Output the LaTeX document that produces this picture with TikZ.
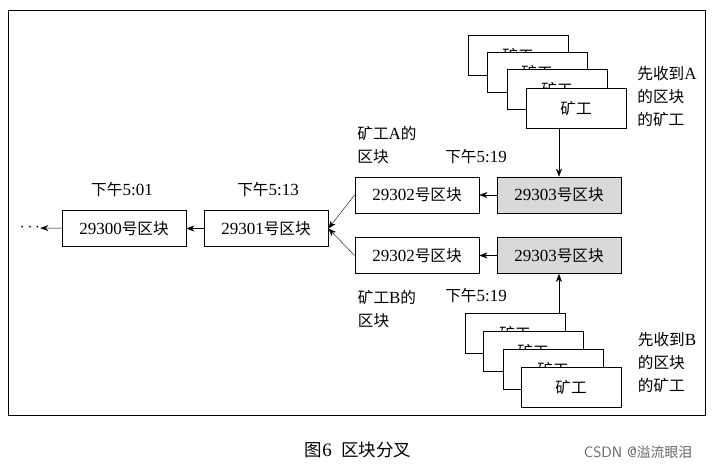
\documentclass[tikz,border=0pt]{standalone}
\usepackage{fontspec}
\setmainfont{Liberation Serif}
\newfontfamily\cjk{Noto Sans CJK SC}[Scale=0.92]
\newcommand{\zh}[1]{{\cjk #1}}
\usetikzlibrary{arrows.meta}
\begin{document}
\begin{tikzpicture}[x=1pt,y=-1pt,
  blk/.style={draw,thick,minimum width=124pt,minimum height=36pt,font=\fontsize{17}{19}\selectfont,inner sep=0pt},
  gblk/.style={blk,fill=black!15},
  mn/.style={draw,fill=white,minimum width=100pt,minimum height=40pt,font=\fontsize{17}{19}\selectfont,inner sep=0pt},
  lbl/.style={font=\fontsize{17}{23}\selectfont,align=left,inner sep=0pt},
  arr/.style={-{Stealth[length=8pt,width=6pt]}}]
\useasboundingbox (0,0) rectangle (715,470);
\fill[white] (0,0) rectangle (715,470);
\draw (8,10) rectangle (705,415);
\node[lbl] (dots) at (30,228) {$\cdots$};
\node[blk] (b0) at (124,228.5) {29300\zh{号区块}};
\node[blk] (b1) at (266,228.5) {29301\zh{号区块}};
\node[blk] (a2) at (417,195) {29302\zh{号区块}};
\node[gblk] (a3) at (559,195) {29303\zh{号区块}};
\node[blk] (c2) at (417,255.5) {29302\zh{号区块}};
\node[gblk] (c3) at (559,255.5) {29303\zh{号区块}};
\node[lbl] (t0) at (122,190) {\zh{下午}5:01};
\node[lbl] (t1) at (268,190) {\zh{下午}5:13};
\node[lbl] (ta) at (476,157) {\zh{下午}5:19};
\node[lbl] (tb) at (476,296) {\zh{下午}5:19};
\node[lbl] (la) at (387,145) {\zh{矿工}A\zh{的}\\\zh{区块}};
\node[lbl] (lb) at (387,309) {\zh{矿工}B\zh{的}\\\zh{区块}};
\node[mn] (m1) at (518,55) {\zh{矿工}};
\node[mn] (m2) at (537,72) {\zh{矿工}};
\node[mn] (m3) at (557,89) {\zh{矿工}};
\node[mn] (m4) at (576,108) {\zh{矿工}};
\node[mn] (n1) at (515,333) {\zh{矿工}};
\node[mn] (n2) at (533,351) {\zh{矿工}};
\node[mn] (n3) at (553,369) {\zh{矿工}};
\node[mn] (n4) at (571,387) {\zh{矿工}};
\node[lbl] (ra) at (667,97) {\zh{先收到}A\\\zh{的区块}\\\zh{的矿工}};
\node[lbl] (rb) at (667,363) {\zh{先收到}B\\\zh{的区块}\\\zh{的矿工}};
\draw[arr] (m4.south -| a3) -- (a3.north);
\draw[arr] (n1.north -| c3) -- (c3.south);
\draw[arr] (a3) -- (a2);
\draw[arr] (c3) -- (c2);
\draw[arr] (a2.west) -- (b1.east);
\draw[arr] (c2.west) -- (b1.east);
\draw[arr] (b1) -- (b0);
\draw[arr] (b0) -- (dots);
\node (cap) at (358,450) {\fontsize{19}{21}\selectfont\zh{图}6\ \ \zh{区块分叉}};
\node[text=black!60] (src) at (638,452) {\fontsize{15}{17}\selectfont\textsf{CSDN @}\zh{溢流眼泪}};
\end{tikzpicture}
\end{document}
